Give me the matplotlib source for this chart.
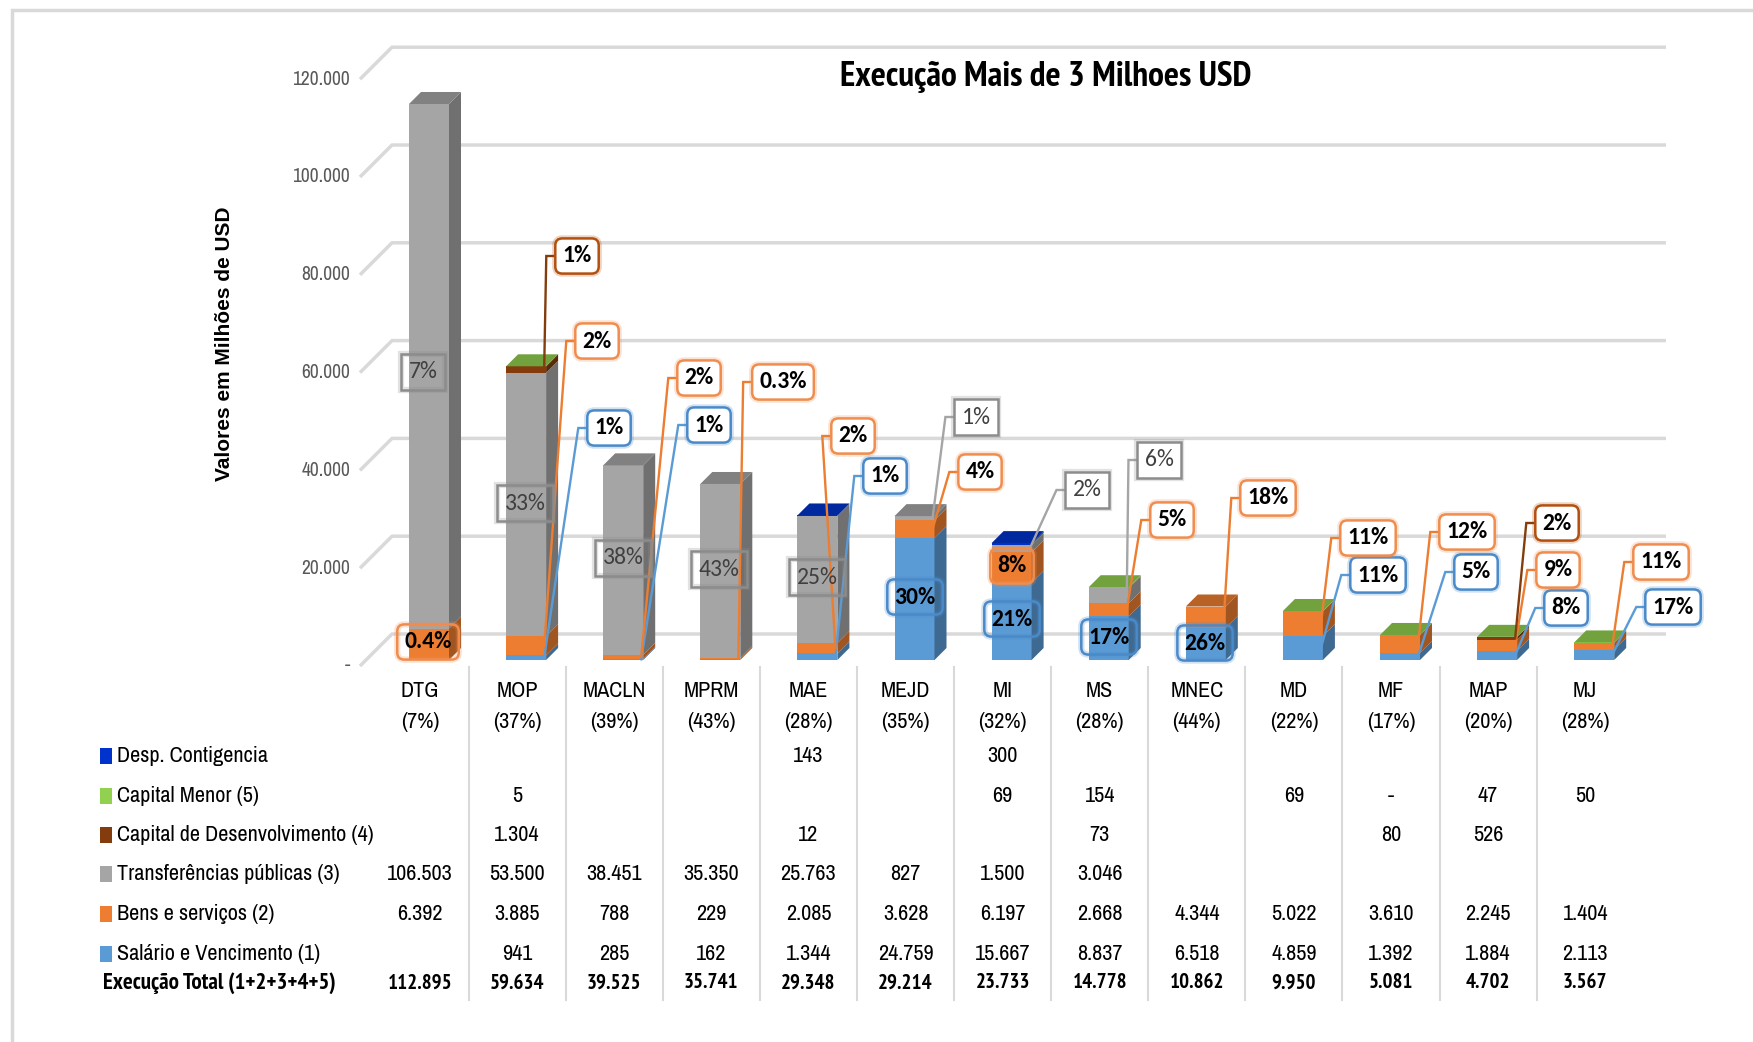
import numpy as np
import matplotlib
matplotlib.use("Agg")
import matplotlib.pyplot as plt
from matplotlib.patches import Polygon, Rectangle
from matplotlib.colors import to_rgb
from matplotlib import font_manager as fm
import matplotlib.patheffects as pe
import warnings
warnings.filterwarnings("ignore")


def escolher_fonte(cands, bold=False):
    disp = {}
    for f in fm.fontManager.ttflist:
        w = f.weight if isinstance(f.weight, int) else (700 if "bold" in str(f.weight) else 400)
        disp.setdefault(f.name, set()).add(w)
    for c in cands:
        if c in disp and (not bold or max(disp[c]) >= 600):
            return c
    return "DejaVu Sans"


NARROW = ["Archivo Narrow", "PT Sans Narrow", "IBM Plex Sans Condensed", "DejaVu Sans"]
NARROW_B = escolher_fonte(["Arial Narrow", "Liberation Sans Narrow", "Archivo Narrow",
                           "PT Sans Narrow", "Roboto Condensed", "IBM Plex Sans Condensed"],
                          bold=True)
CALIBRI = ["Carlito", "IBM Plex Sans Condensed", "DejaVu Sans"]
plt.rcParams["font.family"] = NARROW

# ── dados ─────────────────────────────────────────────────────────────────────
orgaos = ["DTG", "MOP", "MACLN", "MPRM", "MAE", "MEJD", "MI", "MS", "MNEC",
          "MD", "MF", "MAP", "MJ"]
pct_orgao = ["7%", "37%", "39%", "43%", "28%", "35%", "32%", "28%", "44%",
             "22%", "17%", "20%", "28%"]

salario    = [None, 941, 285, 162, 1344, 24759, 15667, 8837, 6518, 4859, 1392, 1884, 2113]
bens       = [6392, 3885, 788, 229, 2085, 3628, 6197, 2668, 4344, 5022, 3610, 2245, 1404]
transf     = [106503, 53500, 38451, 35350, 25763, 827, 1500, 3046, None, None, None, None, None]
cap_desenv = [None, 1304, None, None, 12, None, None, 73, None, None, 80, 526, None]
cap_menor  = [None, 5, None, None, None, None, 69, 154, None, 69, 0, 47, 50]
desp_cont  = [None, None, None, None, 143, None, 300, None, None, None, None, None, None]
exec_total = [112895, 59634, 39525, 35741, 29348, 29214, 23733, 14778, 10862,
              9950, 5081, 4702, 3567]

# rotulos (% de execucao) por serie
rot_salario = [None, "1%", "1%", None, "1%", "30%", "21%", "17%", "26%", "11%", "5%", "8%", "17%"]
rot_bens    = ["0.4%", "2%", "2%", "0.3%", "2%", "4%", "8%", "5%", "18%", "11%", "12%", "9%", "11%"]
rot_transf  = ["7%", "33%", "38%", "43%", "25%", "1%", "2%", "6%", None, None, None, None, None]
rot_desenv  = [None, "1%", None, None, None, None, None, None, None, None, None, "2%", None]

yticks = [0, 20000, 40000, 60000, 80000, 100000, 120000]

# posicao das caixas de rotulo (px na imagem), dentro da barra ou nao
POS = {
    ("transf", 0): (423, 372, True), ("bens", 0): (428, 642, True),
    ("transf", 1): (525, 503, True), ("desenv", 1): (577, 256, False),
    ("bens", 1): (597, 341, False), ("sal", 1): (609, 428, False),
    ("transf", 2): (623, 558, True), ("bens", 2): (699, 378, False),
    ("sal", 2): (709, 425, False),
    ("transf", 3): (719, 569, True), ("bens", 3): (783, 382, False),
    ("transf", 4): (817, 577, True), ("bens", 4): (853, 436, False),
    ("sal", 4): (885, 476, False),
    ("sal", 5): (915, 597, True), ("transf", 5): (976, 417, False),
    ("bens", 5): (980, 472, False),
    ("bens", 6): (1012, 566, True), ("sal", 6): (1012, 619, True),
    ("transf", 6): (1087, 490, False),
    ("sal", 7): (1109, 637, True), ("transf", 7): (1159, 460, False),
    ("bens", 7): (1172, 520, False),
    ("sal", 8): (1205, 643, True), ("bens", 8): (1268, 498, False),
    ("bens", 9): (1368, 538, False), ("sal", 9): (1378, 575, False),
    ("bens", 10): (1467, 532, False), ("sal", 10): (1476, 572, False),
    ("desenv", 11): (1557, 523, False), ("bens", 11): (1558, 570, False),
    ("sal", 11): (1566, 608, False),
    ("bens", 12): (1661, 562, False), ("sal", 12): (1673, 607, False),
}

SERIES = [
    ("Salário e Vencimento (1)", salario, "#5B9BD5", rot_salario, "sal"),
    ("Bens e serviços (2)", bens, "#ED7D31", rot_bens, "bens"),
    ("Transferências públicas (3)", transf, "#A5A5A5", rot_transf, "transf"),
    ("Capital de Desenvolvimento (4)", cap_desenv, "#843C0C", rot_desenv, "desenv"),
    ("Capital Menor (5)", cap_menor, "#92D050", None, "menor"),
    ("Desp. Contigencia", desp_cont, "#0033CC", None, "desp"),
]
BOX_EDGE = {"sal": "#4A8AC9", "bens": "#F08D4E", "transf": "#8C8C8C", "desenv": "#B4500E"}
LEADER = {"sal": "#5B9BD5", "bens": "#ED7D31", "transf": "#A5A5A5", "desenv": "#843C0C"}

# ── geometria ─────────────────────────────────────────────────────────────────
W_PX, H_PX = 1753, 1042
X0, XS = 429, 97.1        # px do centro da 1a barra, px por categoria
Y0, YS = 660, 0.004925    # px do valor 0 (plano das barras), px por unidade
WALL_F, WALL_B, WALL_S = 666, 634, 0.00489
BW = 40 / XS
DX, DY = 12 / XS, 12 / YS


def px2d(x, y):
    return (x - X0) / XS, (Y0 - y) / YS


def shade(c, f):
    return tuple(np.array(to_rgb(c)) * f)


def fmt(v):
    if v is None:
        return ""
    if v == 0:
        return "-"
    return f"{v:,}".replace(",", ".")


fig = plt.figure(figsize=(W_PX / 100, H_PX / 100), dpi=100)
ax = fig.add_axes([0, 0, 1, 1])
ax.set_xlim(-X0 / XS, (W_PX - X0) / XS)
ax.set_ylim(-(H_PX - Y0) / YS, Y0 / YS)
ax.axis("off")

fig.add_artist(Rectangle((12 / W_PX, -0.01), 1.1, (H_PX - 10) / H_PX + 0.01,
                         transform=fig.transFigure, fill=False,
                         ec="#D9D9D9", lw=2.5))

# paredes / grade
for v in yticks:
    yf, yb = WALL_F - v * WALL_S, WALL_B - v * WALL_S
    p1, p2, p3 = px2d(360, yf), px2d(392, yb), px2d(1666, yb)
    ax.plot([p1[0], p2[0], p3[0]], [p1[1], p2[1], p3[1]], color="#D9D9D9",
            lw=2.5, zorder=1, solid_capstyle="butt")
    lx, ly = px2d(350, yf)
    ax.text(lx, ly, fmt(v) if v else "-", ha="right", va="center",
            fontsize=14, color="#595959")

# barras 3D empilhadas (valor 0 ainda desenha a face de cima, como no Excel)
n = len(orgaos)
segs = {}
for i in range(n):
    base = 0
    top_col = None
    for _, vals, col, _, key in SERIES:
        v = vals[i]
        if v is None:
            continue
        xr = i + BW / 2
        if v > 0:
            ax.bar(i, v, bottom=base, width=BW, color=col, lw=0, zorder=3)
            ax.add_patch(Polygon([(xr, base), (xr + DX, base + DY),
                                  (xr + DX, base + v + DY), (xr, base + v)],
                                 closed=True, fc=shade(col, 0.68), lw=0, zorder=3))
        segs[(key, i)] = (base, v)
        base += v
        top_col = col
    xl = i - BW / 2
    ax.add_patch(Polygon([(xl, base), (xl + DX, base + DY),
                          (xl + BW + DX, base + DY), (xl + BW, base)],
                         closed=True, fc=shade(top_col, 0.78), lw=0, zorder=3))

# rotulos
callouts = []
for _, vals, col, rots, key in SERIES:
    if rots is None:
        continue
    for i, txt in enumerate(rots):
        if not txt:
            continue
        x, y, inside = POS[(key, i)]
        gray = key == "transf"
        bbox = dict(boxstyle=("square,pad=0.3" if gray else
                              "round,pad=0.3,rounding_size=0.3"),
                    fc="none" if inside else "white", ec=BOX_EDGE[key], lw=1.8)
        t = ax.text(*px2d(x, y), txt, ha="center", va="center", fontsize=17,
                    family=CALIBRI, fontweight="normal" if gray else "bold",
                    color="#404040" if gray else "black", zorder=6, bbox=bbox)
        t.get_bbox_patch().set_path_effects(
            [pe.withStroke(linewidth=4.5, foreground=BOX_EDGE[key], alpha=0.25)])
        if not inside:
            b, v = segs[(key, i)]
            callouts.append((t, (i + BW / 2 - 0.02, b + v / 2), LEADER[key]))

# tabela
rows_y = [756, 796, 835, 874, 914, 954]
for i in range(n):
    cx = i - 9 / XS
    ax.text(cx, px2d(0, 691)[1], orgaos[i], ha="center", va="center", fontsize=16)
    ax.text(cx, px2d(0, 722)[1], f"({pct_orgao[i]})", ha="center", va="center", fontsize=16)
    for (name, vals, col, _, _), ry in zip(SERIES[::-1], rows_y):
        ax.text(cx, px2d(0, ry)[1], fmt(vals[i]), ha="center", va="center", fontsize=16)
    ax.text(cx, px2d(0, 983)[1], fmt(exec_total[i]), ha="center", va="center",
            fontsize=15, fontweight="bold", family=NARROW_B)
    if i < n - 1:
        ax.plot([cx + 0.5, cx + 0.5], [px2d(0, 667)[1], px2d(0, 1000)[1]],
                color="#D9D9D9", lw=1.5, zorder=1)

for (name, vals, col, _, _), ry in zip(SERIES[::-1], rows_y):
    sx, sy = px2d(100, ry + 8)
    ax.add_patch(Rectangle((sx, sy), 12 / XS, 16 / YS, fc=col, lw=0))
    ax.text(*px2d(117, ry), name, ha="left", va="center", fontsize=16)
ax.text(*px2d(103, 983), "Execução Total (1+2+3+4+5)", ha="left", va="center",
        fontsize=16.5, fontweight="bold", family=NARROW_B)

fig.text(1046 / W_PX, 1 - 77 / H_PX, "Execução Mais de 3 Milhoes USD",
         ha="center", va="center", fontsize=25.5, fontweight="bold", family=NARROW_B)
fig.text(224 / W_PX, 1 - 344 / H_PX, "Valores em Milhões de USD", rotation=90,
         ha="center", va="center", fontsize=15, fontweight="bold",
         family=["Liberation Sans", "DejaVu Sans"])

# linhas de chamada
fig.canvas.draw()
rend = fig.canvas.get_renderer()
inv = ax.transData.inverted()
for t, (axp, ayp), col in callouts:
    bb = t.get_bbox_patch().get_window_extent(rend)
    yc = (bb.y0 + bb.y1) / 2
    e1 = inv.transform((bb.x0 - 9, yc))
    e2 = inv.transform((bb.x0 + 1, yc))
    ax.plot([axp, e1[0], e2[0]], [ayp, e1[1], e2[1]], color=col, lw=1.7,
            zorder=4, solid_joinstyle="miter")

fig.savefig("out.png", dpi=100)
